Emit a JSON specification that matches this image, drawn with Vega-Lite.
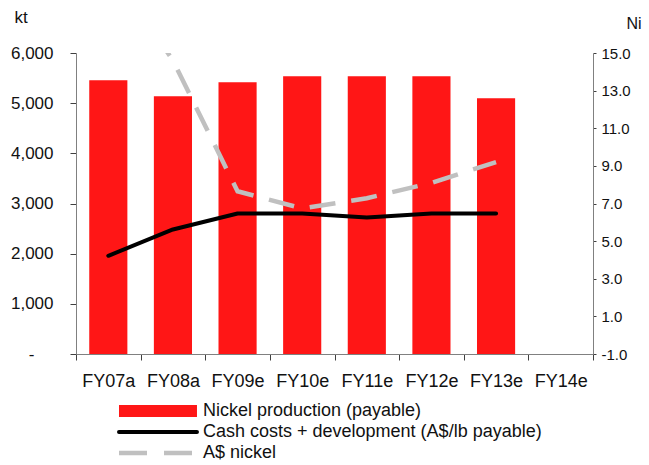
{
  "$schema": "https://vega.github.io/schema/vega-lite/v6.json",
  "width": 517,
  "height": 301,
  "autosize": "none",
  "padding": {"left": 76, "top": 53, "right": 56, "bottom": 111},
  "background": "white",
  "config": {
    "view": {"stroke": null},
    "font": "Liberation Sans",
    "axis": {"grid": false, "domainColor": "#808080", "tickColor": "#404040", "labelColor": "#111111", "titleColor": "#111111", "titleFontWeight": "normal"}
  },
  "datasets": {
    "production": [
      {"year": "FY07a", "series": "Nickel production (payable)", "kt": 5456},
      {"year": "FY08a", "series": "Nickel production (payable)", "kt": 5138},
      {"year": "FY09e", "series": "Nickel production (payable)", "kt": 5417},
      {"year": "FY10e", "series": "Nickel production (payable)", "kt": 5536},
      {"year": "FY11e", "series": "Nickel production (payable)", "kt": 5536},
      {"year": "FY12e", "series": "Nickel production (payable)", "kt": 5536},
      {"year": "FY13e", "series": "Nickel production (payable)", "kt": 5098}
    ],
    "cash": [
      {"year": "FY07a", "series": "Cash costs + development (A$/lb payable)", "value": 4.22},
      {"year": "FY08a", "series": "Cash costs + development (A$/lb payable)", "value": 5.62},
      {"year": "FY09e", "series": "Cash costs + development (A$/lb payable)", "value": 6.47},
      {"year": "FY10e", "series": "Cash costs + development (A$/lb payable)", "value": 6.47},
      {"year": "FY11e", "series": "Cash costs + development (A$/lb payable)", "value": 6.26},
      {"year": "FY12e", "series": "Cash costs + development (A$/lb payable)", "value": 6.47},
      {"year": "FY13e", "series": "Cash costs + development (A$/lb payable)", "value": 6.47}
    ],
    "nickel": [
      {"year": "FY07a", "series": "A$ nickel", "value": 19.7},
      {"year": "FY08a", "series": "A$ nickel", "value": 14.6},
      {"year": "FY09e", "series": "A$ nickel", "value": 7.65},
      {"year": "FY10e", "series": "A$ nickel", "value": 6.74},
      {"year": "FY11e", "series": "A$ nickel", "value": 7.28},
      {"year": "FY12e", "series": "A$ nickel", "value": 8.1},
      {"year": "FY13e", "series": "A$ nickel", "value": 9.2}
    ]
  },
  "layer": [
    {
      "data": {"name": "production"},
      "mark": {"type": "bar", "width": {"band": 0.59}},
      "encoding": {
        "x": {
          "field": "year", "type": "nominal",
          "scale": {"domain": ["FY07a", "FY08a", "FY09e", "FY10e", "FY11e", "FY12e", "FY13e", "FY14e"], "paddingInner": 0, "paddingOuter": 0},
          "axis": {"title": null, "labelAngle": 0, "tickBand": "extent", "tickSize": 6, "labelPadding": 12, "labelFontSize": 18}
        },
        "y": {
          "field": "kt", "type": "quantitative",
          "scale": {"domain": [0, 6000], "nice": false},
          "axis": {
            "orient": "left", "values": [0, 1000, 2000, 3000, 4000, 5000, 6000],
            "labelExpr": "datum.value === 0 ? '-' : format(datum.value, ',')",
            "tickSize": 6, "labelFontSize": 17,
            "labelPadding": {"condition": {"test": "datum.value === 0", "value": 36}, "value": 17},
            "title": "kt", "titleAngle": 0, "titleX": -62, "titleY": -36, "titleAlign": "left", "titleBaseline": "middle", "titleFontSize": 17
          }
        },
        "color": {
          "field": "series", "type": "nominal",
          "scale": {"domain": ["Nickel production (payable)", "Cash costs + development (A$/lb payable)", "A$ nickel"], "range": ["#ff1616", "#000000", "#c0c0c0"]},
          "legend": {
            "title": null, "orient": "none", "legendX": 41, "legendY": 349, "direction": "vertical",
            "padding": 0, "symbolSize": 196, "labelOffset": 68, "rowPadding": 3, "gridAlign": "all",
            "labelFontSize": 18, "labelColor": "#111111", "labelLimit": 450,
            "encode": {
              "symbols": {
                "update": {
                  "shape": {"signal": "datum.value === 'Nickel production (payable)' ? 'M-1,-0.86H10.14V0.86H-1Z' : 'M-1,0H10.14'"},
                  "fill": {"signal": "datum.value === 'Nickel production (payable)' ? '#ff1616' : 'transparent'"},
                  "stroke": {"signal": "datum.value === 'Nickel production (payable)' ? 'transparent' : (datum.value === 'A$ nickel' ? '#c0c0c0' : '#000000')"},
                  "strokeWidth": {"signal": "datum.value === 'Nickel production (payable)' ? 0 : (datum.value === 'A$ nickel' ? 4.5 : 4)"},
                  "strokeDash": {"signal": "datum.value === 'A$ nickel' ? [28, 17] : [1, 0]"},
                  "strokeCap": {"signal": "datum.value === 'A$ nickel' ? 'butt' : 'round'"},
                  "opacity": {"value": 1}
                }
              }
            }
          }
        }
      }
    },
    {
      "layer": [
        {
          "data": {"name": "cash"},
          "mark": {"type": "line", "strokeWidth": 4, "strokeCap": "round", "strokeJoin": "round", "clip": true}
        },
        {
          "data": {"name": "nickel"},
          "mark": {"type": "line", "strokeWidth": 4.5, "strokeDash": [26, 16], "clip": true}
        }
      ],
      "encoding": {
        "x": {"field": "year", "type": "nominal"},
        "y": {
          "field": "value", "type": "quantitative",
          "scale": {"domain": [-1, 15], "nice": false},
          "axis": {
            "orient": "right", "values": [-1, 1, 3, 5, 7, 9, 11, 13, 15],
            "labelExpr": "replace(format(datum.value, '.1f'), '\u2212', '-')",
            "tickSize": 3, "labelPadding": 5, "labelFontSize": 15,
            "title": "Ni", "titleAngle": 0, "titleX": 33, "titleY": -30, "titleAlign": "left", "titleBaseline": "middle", "titleFontSize": 16
          }
        },
        "color": {"field": "series", "type": "nominal"}
      }
    }
  ],
  "resolve": {"scale": {"y": "independent"}}
}
